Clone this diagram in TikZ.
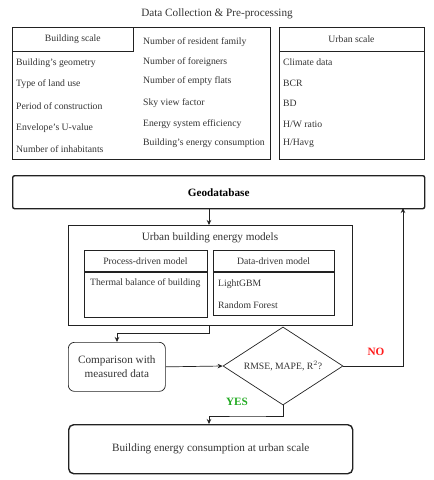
\documentclass[tikz,border=0pt]{standalone}
\usepackage{fontspec}
\setmainfont{Liberation Serif}
\usetikzlibrary{arrows.meta,shapes.geometric,positioning}
\definecolor{linec}{HTML}{222222}
\definecolor{txtc}{HTML}{333333}
\definecolor{nored}{HTML}{FF1A1A}
\definecolor{yesgreen}{HTML}{22AA22}
\tikzset{
  thinbox/.style={draw=linec, line width=0.7pt, inner sep=0pt, anchor=north west},
  thickbox/.style={draw=linec, line width=1.4pt, inner sep=0pt, anchor=north west},
  item/.style={anchor=west, inner sep=0pt, font=\fontsize{9.7}{11}\selectfont, text=txtc},
  head/.style={inner sep=0pt, font=\fontsize{9.7}{11}\selectfont, text=txtc},
  big/.style={inner sep=0pt, font=\fontsize{11.2}{13}\selectfont, text=txtc},
  conn/.style={draw=linec, line width=0.7pt, -{Stealth[length=5pt,width=4.5pt]}},
}
\begin{document}
\begin{tikzpicture}[x=1pt,y=-1pt]
\useasboundingbox (0,0) rectangle (434,480);
% title
\node[big] (title) at (217,14) {Data Collection \& Pre-processing};
% building scale box
\node[thinbox, minimum width=258, minimum height=132] (bbox) at (12,27) {};
\node[thinbox, minimum width=121, minimum height=24] (bhead) at (12,27) {};
\node[head] (bheadt) at (bhead.center) {Building scale};
\node[item] (b1) at (16,63) {Building's geometry};
\node[item] (b2) at (16,84) {Type of land use};
\node[item] (b3) at (16,106) {Period of construction};
\node[item] (b4) at (16,128) {Envelope's U-value};
\node[item] (b5) at (16,149) {Number of inhabitants};
\node[item] (m1) at (143,42) {Number of resident family};
\node[item] (m2) at (143,62) {Number of foreigners};
\node[item] (m3) at (143,81) {Number of empty flats};
\node[item] (m4) at (143,103) {Sky view factor};
\node[item] (m5) at (143,124) {Energy system efficiency};
\node[item] (m6) at (143,143) {Building's energy consumption};
% urban scale box
\node[thinbox, minimum width=145, minimum height=132] (ubox) at (279,27) {};
\draw[draw=linec, line width=0.7pt] (279,51) -- (424,51);
\node[head] (uhead) at (351.5,39) {Urban scale};
\node[item] (u1) at (283,62) {Climate data};
\node[item] (u2) at (283,83) {BCR};
\node[item] (u3) at (283,103) {BD};
\node[item] (u4) at (283,124) {H/W ratio};
\node[item] (u5) at (283,143) {H/Havg};
% geodatabase
\node[thickbox, rounded corners=2pt, minimum width=412, minimum height=33] (geo) at (12,175) {};
\node[inner sep=0pt, font=\fontsize{11.2}{13}\selectfont\bfseries, text=black] (geot) at (geo.center) {Geodatabase};
% UBEM
\node[thickbox, minimum width=284, minimum height=100] (ubem) at (68,225) {};
\node[big] (ubemt) at (210,238) {Urban building energy models};
\node[thickbox, line width=1.1pt, minimum width=123, minimum height=67] (proc) at (84,250) {};
\draw[draw=linec, line width=1.1pt] (84,272) -- (207,272);
\node[head] (proct) at (145.5,261) {Process-driven model};
\node[item] (p1) at (90,283) {Thermal balance of building};
\node[thickbox, line width=1.1pt, minimum width=121, minimum height=65] (data) at (213,250) {};
\draw[draw=linec, line width=1.1pt] (213,272) -- (334,272);
\node[head] (datat) at (273.5,261) {Data-driven model};
\node[item] (d1) at (218,284) {LightGBM};
\node[item] (d2) at (218,305) {Random Forest};
% comparison
\node[thinbox, rounded corners=6pt, minimum width=97, minimum height=49] (comp) at (68,342) {};
\node[big, align=center, font=\fontsize{11.2}{14}\selectfont] (compt) at (comp.center) {Comparison with\\measured data};
% diamond
\node[diamond, draw=linec, line width=0.7pt, inner sep=0pt, aspect=1.54, minimum width=120, minimum height=78] (dia) at (283,366) {};
\node[head] (diat) at (dia.center) {RMSE, MAPE, R$^{2}$?};
% final
\node[thickbox, rounded corners=5pt, minimum width=284, minimum height=49] (final) at (68,424) {};
\node[big] (finalt) at (final.center) {Building energy consumption at urban scale};
% connectors
\coordinate (geob) at (209,208);
\coordinate (ubemtop) at (209,225);
\draw[conn] (geob) -- (ubemtop);
\coordinate (ubemb) at (209,325);
\coordinate (comptop) at (117,342);
\draw[conn] (ubemb) -- (209,333) -| (comptop);
\draw[conn] (comp.east) -- (dia.west);
\coordinate (geoin) at (403,208);
\draw[conn] (dia.east) -| (geoin);
\coordinate (finaltop) at (209,424);
\draw[conn] (dia.south) |- (249,416) -| (finaltop);
\node[inner sep=0pt, font=\fontsize{11.2}{13}\selectfont\bfseries, text=nored] (no) at (376,352) {NO};
\node[inner sep=0pt, font=\fontsize{11.2}{13}\selectfont\bfseries, text=yesgreen] (yes) at (237,402) {YES};
\end{tikzpicture}
\end{document}
